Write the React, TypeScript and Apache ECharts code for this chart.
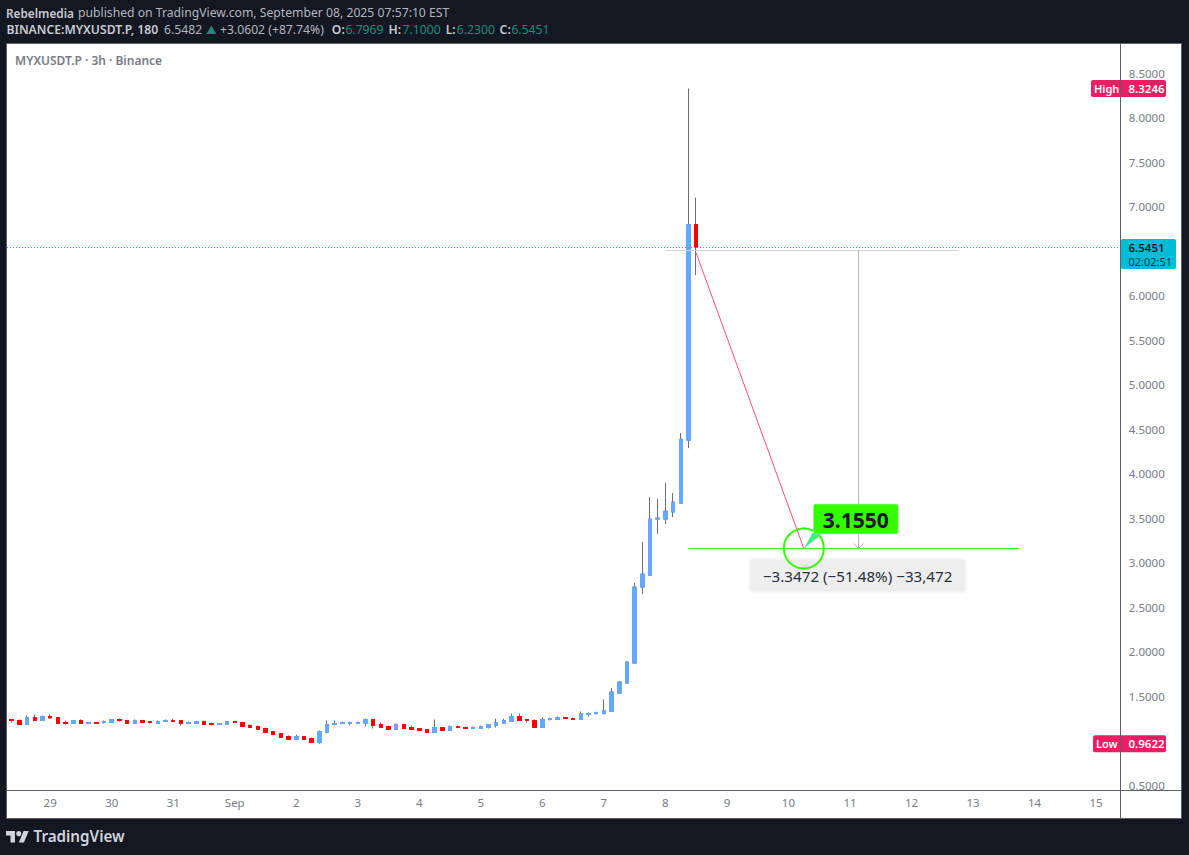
import React, { useEffect, useRef } from "react";
import * as echarts from "echarts";

const opens = [1.236,1.225,1.180,1.258,1.225,1.270,1.258,1.202,1.191,1.225,1.191,1.202,1.202,1.202,1.236,1.225,1.191,1.225,1.213,1.191,1.213,1.225,1.225,1.191,1.191,1.213,1.191,1.180,1.180,1.213,1.202,1.169,1.157,1.135,1.101,1.079,1.045,1.011,1.045,1.022,0.978,1.090,1.180,1.191,1.191,1.191,1.191,1.236,1.180,1.157,1.124,1.180,1.146,1.135,1.124,1.090,1.146,1.112,1.157,1.146,1.135,1.135,1.146,1.169,1.191,1.213,1.270,1.236,1.225,1.146,1.236,1.236,1.258,1.247,1.236,1.292,1.303,1.303,1.330,1.533,1.645,1.870,2.724,2.858,3.488,3.488,3.567,3.667,4.375,6.7969];
const closes = [1.225,1.180,1.258,1.225,1.270,1.254,1.191,1.191,1.225,1.191,1.202,1.191,1.213,1.236,1.225,1.191,1.225,1.202,1.202,1.213,1.225,1.213,1.191,1.202,1.213,1.180,1.180,1.191,1.213,1.202,1.157,1.146,1.124,1.090,1.067,1.034,1.011,1.045,1.011,0.978,1.101,1.180,1.191,1.202,1.202,1.202,1.236,1.169,1.146,1.124,1.180,1.135,1.124,1.112,1.090,1.146,1.112,1.157,1.146,1.135,1.146,1.157,1.180,1.202,1.225,1.270,1.225,1.225,1.146,1.236,1.247,1.258,1.247,1.236,1.303,1.303,1.315,1.337,1.544,1.656,1.881,2.724,2.870,3.488,3.499,3.578,3.679,4.387,6.7969,6.5451];
const lows = [1.202,1.180,1.180,1.225,1.225,1.247,1.191,1.180,1.191,1.191,1.191,1.191,1.191,1.202,1.213,1.191,1.191,1.202,1.191,1.191,1.213,1.213,1.169,1.191,1.191,1.180,1.180,1.180,1.180,1.202,1.157,1.146,1.124,1.090,1.067,1.034,1.011,1.011,1.011,0.978,0.9622,1.079,1.169,1.191,1.169,1.191,1.157,1.135,1.146,1.124,1.124,1.135,1.124,1.112,1.090,1.090,1.112,1.112,1.146,1.135,1.135,1.135,1.135,1.146,1.191,1.213,1.225,1.202,1.146,1.146,1.225,1.236,1.247,1.236,1.236,1.270,1.292,1.292,1.330,1.533,1.645,1.870,2.645,2.858,3.319,3.431,3.510,3.667,4.285,6.2300];
const highs = [1.236,1.236,1.281,1.292,1.281,1.292,1.258,1.225,1.225,1.236,1.202,1.202,1.225,1.236,1.247,1.225,1.236,1.225,1.213,1.225,1.236,1.247,1.225,1.213,1.213,1.225,1.202,1.191,1.213,1.213,1.202,1.180,1.169,1.146,1.101,1.079,1.056,1.067,1.045,1.034,1.112,1.225,1.225,1.213,1.213,1.213,1.247,1.236,1.202,1.169,1.191,1.180,1.169,1.135,1.124,1.236,1.146,1.169,1.169,1.157,1.157,1.169,1.180,1.247,1.247,1.303,1.303,1.247,1.236,1.258,1.258,1.270,1.258,1.258,1.326,1.315,1.315,1.461,1.589,1.667,1.892,2.769,3.229,3.735,3.712,3.892,3.780,4.454,8.3246,7.1000];

const dayLabels = ["29","30","31","Sep","2","3","4","5","6","7","8","9","10","11","12","13","14","15"];
const firstDayBar = 5;
const barsPerDay = 8;
const barSlots = 144;
const categories = Array.from({ length: barSlots }, (_, i) =>
  (i - firstDayBar) % barsPerDay === 0 && i >= firstDayBar ? dayLabels[(i - firstDayBar) / barsPerDay] : ""
);
const yMin = 0.5;
const yMax = 8.5;
const yStep = 0.5;
const ticksUnderTags = [1.0, 6.5];

const lastPrice = 6.5451;
const highPrice = 8.3246;
const lowPrice = 0.9622;
const measureTop = 6.508;
const measureBottom = 3.16;
const pinkStart = 6.478;

const BG = "#131722";
const BLUE = "#64a8ff";
const RED = "#ff0000";
const WICK = "#6a6d78";
const GREEN = "#33ff00";
const TAG = "#e91e63";
const TEAL = "#1f8a7d";
const FONT = '"Noto Sans", sans-serif';

const LOGO_D = "M14 22H7V11H0V4h14v18zM28 22h-8l7.5-18h8L28 22zM24 8a4 4 0 1 1-8 0 4 4 0 0 1 8 0z";
echarts.graphic.registerShape("tvlogo", echarts.graphic.extendPath(LOGO_D, {}) as any);

function txt(x: number, y: number, text: string, fill: string, font: string, align = "left", z = 100) {
  return { type: "text", x, y, z, silent: true, style: { text, fill, font, textAlign: align, textVerticalAlign: "middle" } };
}

export default function App() {
  const ref = useRef<HTMLDivElement>(null);
  useEffect(() => {
    if (!ref.current) return;
    const chart = echarts.init(ref.current, undefined, { renderer: "svg" });
    const full = opens.map((o, i) => [o, closes[i], lows[i], highs[i]]);
    const bodies = opens.map((o, i) => [o, closes[i], Math.min(o, closes[i]), Math.max(o, closes[i])]);
    chart.setOption({
      animation: false,
      backgroundColor: BG,
      grid: { left: 7.9, top: 73, width: 1107.36, height: 712 },
      xAxis: {
        type: "category",
        data: categories,
        boundaryGap: true,
        axisLine: { show: false },
        axisTick: { show: false },
        splitLine: { show: false },
        axisLabel: { interval: 0, margin: 11.5, color: "#787b86", fontSize: 11.5, fontFamily: FONT, hideOverlap: false },
      },
      yAxis: {
        type: "value",
        position: "right",
        min: yMin,
        max: yMax,
        interval: yStep,
        scale: true,
        axisLine: { show: false },
        axisTick: { show: false },
        splitLine: { show: false },
        axisLabel: {
          margin: 13.5,
          color: "#787b86",
          fontSize: 11.5,
          fontFamily: FONT,
          formatter: (v: number) => (ticksUnderTags.includes(v) ? "" : v.toFixed(4)),
        },
      },
      series: [
        {
          type: "candlestick",
          barWidth: 4,
          z: 3,
          data: full,
          itemStyle: { color: WICK, color0: WICK, borderColor: WICK, borderColor0: WICK, borderColorDoji: WICK, borderWidth: 1 },
        },
        {
          type: "candlestick",
          barWidth: 4,
          z: 4,
          data: bodies,
          itemStyle: { color: BLUE, color0: RED, borderColor: BLUE, borderColor0: RED, borderColorDoji: BLUE, borderWidth: 1 },
        },
      ],
    });

    const X = (i: number) => chart.convertToPixel({ xAxisIndex: 0 }, i) as number;
    const Y = (p: number) => chart.convertToPixel({ yAxisIndex: 0 }, p) as number;
    const crisp = (v: number) => Math.round(v) + 0.5;

    const yLast = crisp(Y(lastPrice));
    const yHigh = Y(highPrice);
    const yLow = Y(lowPrice);
    const yTop = crisp(Y(measureTop));
    const yBot = crisp(Y(measureBottom));
    const xV = crisp(X(110));
    const xP = X(103);
    const line = (x1: number, y1: number, x2: number, y2: number, stroke: string, lineWidth = 1, lineDash?: number[], z = 50) => ({
      type: "line", z, silent: true, shape: { x1, y1, x2, y2 }, style: { stroke, lineWidth, lineDash },
    });
    const labelMid = (X(96) + X(124)) / 2;
    const L1 = 12.7;
    const L2 = 29.5;

    const elements: any[] = [
      { type: "rect", z: -10, silent: true, shape: { x: 6.5, y: 43.5, width: 1175, height: 775 }, style: { fill: "#ffffff", stroke: "#5d606b", lineWidth: 1 } },
      line(7, 790.5, 1182, 790.5, "#5d606b", 1, undefined, 1),
      line(1120.5, 44, 1120.5, 818, "#5d606b", 1, undefined, 1),

      txt(6, L1, "Rebelmedia", "#c8cad2", `600 11.8px ${FONT}`),
      txt(78, L1, "published on TradingView.com, September 08, 2025 07:57:10 EST", "#b2b5be", `12.2px ${FONT}`),
      txt(6.4, L2, "BINANCE:MYXUSDT.P, 180", "#c8cad2", `600 12.2px ${FONT}`),
      txt(164, L2, "6.5482", "#b2b5be", `12.2px ${FONT}`),
      { type: "polygon", z: 100, silent: true, shape: { points: [[211.4, 25.5], [206.4, 34], [216.4, 34]] }, style: { fill: TEAL } },
      txt(220, L2, "+3.0602 (+87.74%)", "#b2b5be", `12.2px ${FONT}`),
      txt(331.8, L2, "O:", "#c8cad2", `600 12.2px ${FONT}`),
      txt(345.4, L2, "6.7969", TEAL, `12.2px ${FONT}`),
      txt(388.6, L2, "H:", "#c8cad2", `600 12.2px ${FONT}`),
      txt(402.5, L2, "7.1000", TEAL, `12.2px ${FONT}`),
      txt(445.7, L2, "L:", "#c8cad2", `600 12.2px ${FONT}`),
      txt(456.8, L2, "6.2300", TEAL, `12.2px ${FONT}`),
      txt(499.6, L2, "C:", "#c8cad2", `600 12.2px ${FONT}`),
      txt(511.4, L2, "6.5451", TEAL, `12.2px ${FONT}`),

      txt(15, 60, "MYXUSDT.P · 3h · Binance", "#787b86", `600 12px ${FONT}`),

      line(7, yLast, 1120, yLast, "#00bcd4", 1, [1, 2], 5),
      line(X(85), yTop, X(123), yTop, "#d1d4dc"),
      line(xV, yTop, xV, yBot, "#b2b5be"),
      line(xV - 5, yBot - 5, xV, yBot, "#b2b5be"),
      line(xV + 5, yBot - 5, xV, yBot, "#b2b5be"),
      line(X(89), Y(pinkStart), xP, yBot, "#f7526a"),
      line(X(88), yBot, X(131), yBot, GREEN, 1),
      { type: "rect", z: 58, silent: true, shape: { x: X(96), y: yBot + 11, width: X(124) - X(96), height: 32, r: 2 }, style: { fill: "#eeeeee", shadowBlur: 3, shadowColor: "rgba(0,0,0,0.12)" } },
      txt(labelMid, yBot + 27.5, "−3.3472 (−51.48%) −33,472", "#2a2e39", `15.2px ${FONT}`, "center", 59),
      { type: "circle", z: 60, silent: true, shape: { cx: xP, cy: yBot, r: 20 }, style: { fill: "none", stroke: GREEN, lineWidth: 2 } },
      { type: "polygon", z: 60, silent: true, shape: { points: [[xP, yBot], [xP + 9, yBot - 16], [xP + 20, yBot - 16]] }, style: { fill: "#3cf07a" } },
      { type: "rect", z: 61, silent: true, shape: { x: xP + 9.5, y: yBot - 44.5, width: 85, height: 30, r: 2 }, style: { fill: GREEN, stroke: "#c3f5d0", lineWidth: 0.6 } },
      txt(xP + 52, yBot - 29, "3.1550", "#131722", `700 21px ${FONT}`, "center", 62),

      { type: "rect", z: 70, silent: true, shape: { x: 1091, y: yHigh - 8.5, width: 75, height: 17, r: 2 }, style: { fill: TAG } },
      line(1120.5, yHigh - 8.5, 1120.5, yHigh + 8.5, "#5d606b", 1, undefined, 71),
      txt(1094, yHigh, "High", "#ffffff", `600 11px ${FONT}`, "left", 72),
      txt(1128.5, yHigh, highPrice.toFixed(4), "#ffffff", `600 11.5px ${FONT}`, "left", 72),

      { type: "rect", z: 70, silent: true, shape: { x: 1093, y: yLow - 8.5, width: 73, height: 17, r: 2 }, style: { fill: TAG } },
      line(1120.5, yLow - 8.5, 1120.5, yLow + 8.5, "#5d606b", 1, undefined, 71),
      txt(1096, yLow, "Low", "#ffffff", `600 11px ${FONT}`, "left", 72),
      txt(1128.5, yLow, lowPrice.toFixed(4), "#ffffff", `600 11.5px ${FONT}`, "left", 72),

      { type: "rect", z: 70, silent: true, shape: { x: 1121, y: 239, width: 55, height: 30, r: 2 }, style: { fill: "#00bcd4" } },
      txt(1128.5, 247.5, lastPrice.toFixed(4), "#131722", `600 11.5px ${FONT}`, "left", 72),
      txt(1128.5, 261, "02:02:51", "#1c3f4a", `11px ${FONT}`, "left", 72),

      { type: "tvlogo", z: 100, silent: true, x: 6, y: 828.5, scaleX: 0.64, scaleY: 0.64, style: { fill: "#d1d4dc" } },
      txt(33.5, 836, "TradingView", "#d1d4dc", `600 15.2px ${FONT}`),
    ];
    chart.setOption({ graphic: { elements } });
    return () => chart.dispose();
  }, []);
  return <div ref={ref} style={{ position: "fixed", left: 0, top: 0, width: 1189, height: 855 }} />;
}
